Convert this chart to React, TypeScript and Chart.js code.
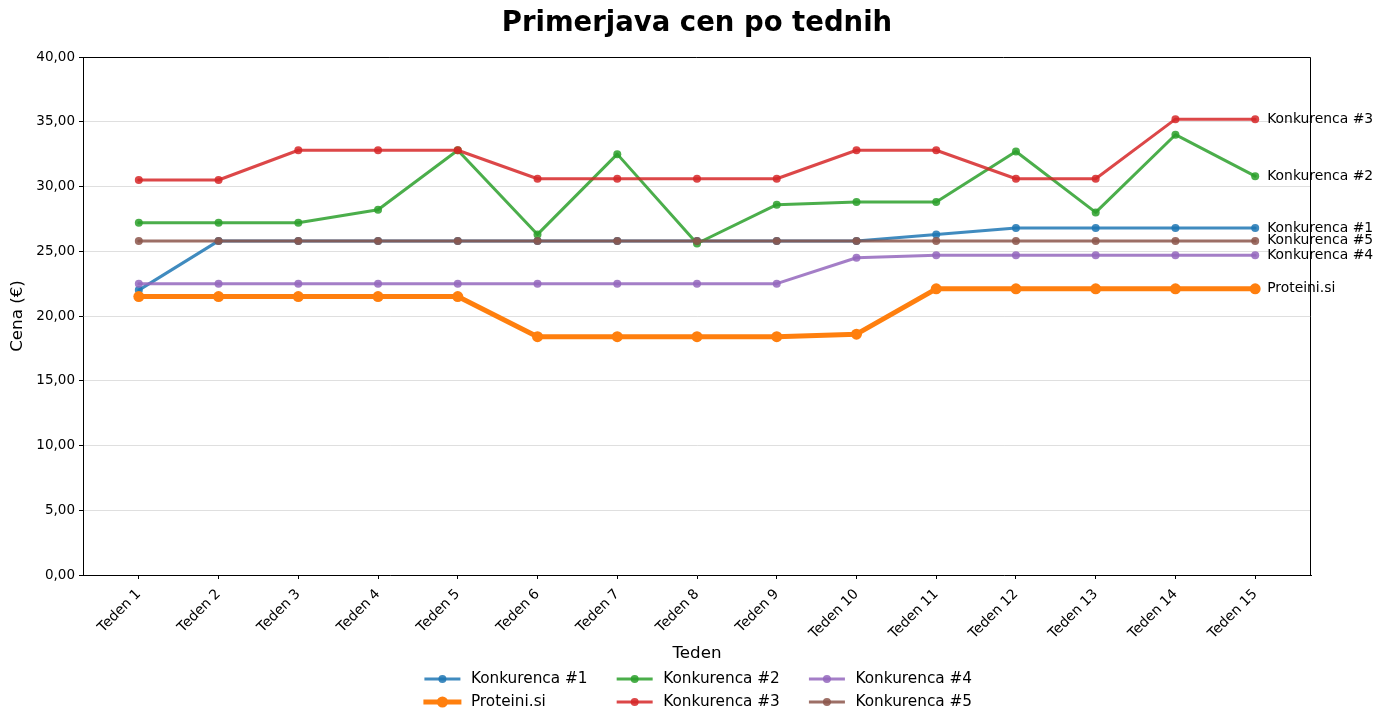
import React, { useEffect, useRef } from "react";
import { Chart, registerables } from "chart.js";

Chart.register(...registerables);

const weeks = ["Teden 1", "Teden 2", "Teden 3", "Teden 4", "Teden 5", "Teden 6", "Teden 7", "Teden 8", "Teden 9", "Teden 10", "Teden 11", "Teden 12", "Teden 13", "Teden 14", "Teden 15"];
const konk1 = [22.0, 25.8, 25.8, 25.8, 25.8, 25.8, 25.8, 25.8, 25.8, 25.8, 26.3, 26.8, 26.8, 26.8, 26.8];
const proteini = [21.5, 21.5, 21.5, 21.5, 21.5, 18.4, 18.4, 18.4, 18.4, 18.6, 22.1, 22.1, 22.1, 22.1, 22.1];
const konk2 = [27.2, 27.2, 27.2, 28.2, 32.8, 26.3, 32.5, 25.6, 28.6, 28.8, 28.8, 32.7, 28.0, 34.0, 30.8];
const konk3 = [30.5, 30.5, 32.8, 32.8, 32.8, 30.6, 30.6, 30.6, 30.6, 32.8, 32.8, 30.6, 30.6, 35.2, 35.2];
const konk4 = [22.5, 22.5, 22.5, 22.5, 22.5, 22.5, 22.5, 22.5, 22.5, 24.5, 24.7, 24.7, 24.7, 24.7, 24.7];
const konk5 = [25.8, 25.8, 25.8, 25.8, 25.8, 25.8, 25.8, 25.8, 25.8, 25.8, 25.8, 25.8, 25.8, 25.8, 25.8];
const yTicks = [0, 5, 10, 15, 20, 25, 30, 35, 40];

const FONT = "'DejaVu Sans', sans-serif";

type S = { name: string; values: number[]; color: string; width: number; radius: number; order: number };
const series: S[] = [
  { name: "Konkurenca #1", values: konk1, color: "rgba(31,119,180,0.85)", width: 3, radius: 4, order: 6 },
  { name: "Proteini.si", values: proteini, color: "rgba(255,127,14,1)", width: 5, radius: 5.5, order: 0 },
  { name: "Konkurenca #2", values: konk2, color: "rgba(44,160,44,0.85)", width: 3, radius: 4, order: 5 },
  { name: "Konkurenca #3", values: konk3, color: "rgba(214,39,40,0.85)", width: 3, radius: 4, order: 4 },
  { name: "Konkurenca #4", values: konk4, color: "rgba(148,103,189,0.85)", width: 3, radius: 4, order: 3 },
  { name: "Konkurenca #5", values: konk5, color: "rgba(140,86,75,0.85)", width: 3, radius: 4, order: 2 },
];

const overlay = {
  id: "overlay",
  afterDraw(chart: any) {
    const ctx = chart.ctx as CanvasRenderingContext2D;
    const ca = chart.chartArea;
    ctx.save();
    // top & right spines
    ctx.strokeStyle = "#000";
    ctx.lineWidth = 1;
    ctx.beginPath();
    ctx.moveTo(Math.round(ca.left), Math.round(ca.top) + 0.5);
    ctx.lineTo(Math.round(ca.right) - 0.5, Math.round(ca.top) + 0.5);
    ctx.lineTo(Math.round(ca.right) - 0.5, Math.round(ca.bottom));
    ctx.stroke();
    const cx = (ca.left + ca.right) / 2;
    // title
    ctx.fillStyle = "#000";
    ctx.textAlign = "center";
    ctx.textBaseline = "middle";
    ctx.font = `bold 27.5px ${FONT}`;
    ctx.fillText("Primerjava cen po tednih", cx, 24);
    // axis titles
    ctx.font = `16.7px ${FONT}`;
    ctx.fillText("Teden", cx, 654);
    ctx.save();
    ctx.translate(18, (ca.top + ca.bottom) / 2);
    ctx.rotate(-Math.PI / 2);
    ctx.fillText("Cena (€)", 0, 0);
    ctx.restore();
    // end labels
    ctx.font = `13.9px ${FONT}`;
    ctx.textAlign = "left";
    chart.data.datasets.forEach((ds: any, i: number) => {
      const meta = chart.getDatasetMeta(i);
      const p = meta.data[meta.data.length - 1];
      ctx.fillText(ds.label, p.x + 12, p.y);
    });
    // legend (2 rows, column-major)
    ctx.font = `15.3px ${FONT}`;
    const handle = 33, pad = 12, spacing = 30.6;
    const rows = [679, 702];
    const ncol = 3;
    const colW: number[] = [];
    for (let c = 0; c < ncol; c++) {
      let m = 0;
      for (let r = 0; r < 2; r++) {
        const s = series[c * 2 + r];
        if (s) m = Math.max(m, ctx.measureText(s.name).width);
      }
      colW.push(handle + pad + m);
    }
    const total = colW.reduce((a, b) => a + b, 0) + spacing * (ncol - 1);
    let x = cx - total / 2 + 2;
    for (let c = 0; c < ncol; c++) {
      for (let r = 0; r < 2; r++) {
        const s = series[c * 2 + r];
        if (!s) continue;
        const y = rows[r];
        ctx.strokeStyle = s.color;
        ctx.lineWidth = s.width;
        ctx.lineCap = "square";
        ctx.beginPath();
        ctx.moveTo(x, y);
        ctx.lineTo(x + handle, y);
        ctx.stroke();
        ctx.fillStyle = s.color;
        ctx.beginPath();
        ctx.arc(x + handle / 2, y, s.radius, 0, Math.PI * 2);
        ctx.fill();
        ctx.fillStyle = "#000";
        ctx.fillText(s.name, x + handle + pad, y);
      }
      x += colW[c] + spacing;
    }
    ctx.restore();
  },
};

export default function App() {
  const ref = useRef<HTMLCanvasElement>(null);
  useEffect(() => {
    document.body.style.margin = "0";
    const chart = new Chart(ref.current!, {
      type: "line",
      data: {
        datasets: series.map((s) => ({
          label: s.name,
          data: s.values.map((v, i) => ({ x: i, y: v })),
          borderColor: s.color,
          backgroundColor: s.color,
          pointBackgroundColor: s.color,
          pointBorderWidth: 0,
          pointRadius: s.radius,
          borderWidth: s.width,
          borderCapStyle: "round",
          borderJoinStyle: "round",
          order: s.order,
          tension: 0,
          fill: false,
        })),
      },
      options: {
        responsive: false,
        animation: false,
        layout: { padding: { top: 57, right: 71, left: 0, bottom: 0 } },
        plugins: { legend: { display: false }, title: { display: false }, tooltip: { enabled: false } },
        scales: {
          x: {
            type: "linear",
            min: -0.7,
            max: 14.7,
            afterBuildTicks: (scale: any) => {
              scale.ticks = weeks.map((_, i) => ({ value: i }));
            },
            afterFit: (scale: any) => {
              scale.height = 151;
            },
            ticks: {
              minRotation: 45,
              maxRotation: 45,
              autoSkip: false,
              color: "#000",
              font: { family: FONT, size: 13.9 },
              padding: 7,
              callback: (v: any) => weeks[v] ?? "",
            },
            grid: { drawOnChartArea: false, drawTicks: true, tickLength: 4, color: "#000", tickColor: "#000" },
            border: { display: true, color: "#000", width: 1 },
          },
          y: {
            min: 0,
            max: 40,
            afterBuildTicks: (scale: any) => {
              scale.ticks = yTicks.map((v) => ({ value: v }));
            },
            afterFit: (scale: any) => {
              scale.width = 83;
            },
            ticks: {
              color: "#000",
              font: { family: FONT, size: 13.5 },
              padding: 4,
              callback: (v: any) => Number(v).toFixed(2).replace(".", ","),
            },
            grid: { color: "rgba(176,176,176,0.4)", lineWidth: 1, tickLength: 4, tickColor: "#000" },
            border: { display: true, color: "#000", width: 1 },
          },
        },
      },
      plugins: [overlay],
    } as any);
    return () => chart.destroy();
  }, []);
  return (
    <div style={{ position: "fixed", left: 0, top: 0, width: 1382, height: 726, background: "#fff" }}>
      <canvas ref={ref} width={1382} height={726} />
    </div>
  );
}
